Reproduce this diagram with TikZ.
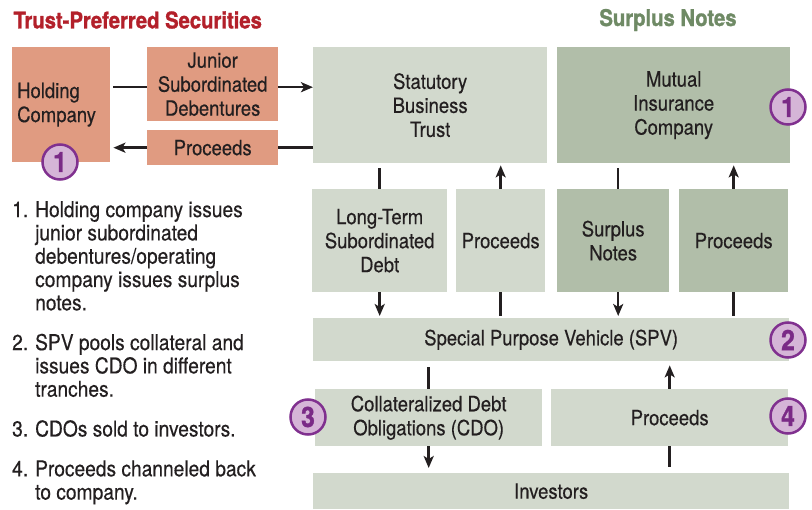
\documentclass[tikz,border=0pt]{standalone}
\usepackage{fontspec}
\setmainfont{TeX Gyre Heros}[FakeStretch=0.88,
  UprightFeatures={FakeBold=0.35},
  BoldFeatures={FakeBold=1.2}]
\usetikzlibrary{arrows.meta,calc}

\definecolor{salmon}{HTML}{E09B81}
\definecolor{paleG}{HTML}{D2D9CD}
\definecolor{sageG}{HTML}{B1BEA9}
\definecolor{titleRed}{HTML}{B3202A}
\definecolor{titleGreen}{HTML}{6F8A65}
\definecolor{ink}{HTML}{231F20}
\definecolor{badgeFill}{HTML}{D5B5D7}
\definecolor{badgeLine}{HTML}{80308F}
\definecolor{badgeText}{HTML}{7A2A86}

\begin{document}
\begin{tikzpicture}[x=1pt,y=-1pt,
  font=\fontsize{21}{24}\selectfont, text=ink,
  box/.style={fill=#1, inner sep=0pt, anchor=north west, align=center},
  flow/.style={draw=ink, line width=2.5pt},
  tip/.style={-{Stealth[length=12pt,width=10pt,inset=3pt]}},
  badge/.style={circle, fill=badgeFill, draw=badgeLine, line width=2.5pt,
    minimum size=35pt, inner sep=0pt, text=badgeText,
    font=\bfseries\fontsize{28}{28}\selectfont},
  heading/.style={font=\bfseries\fontsize{23}{23}\selectfont}]

\useasboundingbox (0,0) rectangle (812,510);
\fill[white] (0,0) rectangle (812,510);

% headings
\node[heading, text=titleRed, anchor=west] (tps) at (10,20) {Trust-Preferred Securities};
\node[heading, text=titleGreen] (sn) at (668,20) {Surplus Notes};

% trust-preferred side
\node[box=salmon, minimum width=98, minimum height=115, text width=88,
      inner xsep=5pt, align=left] (hold) at (12,47) {Holding\\Company};
\node[box=salmon, minimum width=131, minimum height=74] (jun) at (147,47)
  {Junior\\Subordinated\\Debentures};
\node[box=salmon, minimum width=131, minimum height=35] (proc1) at (147,130) {Proceeds};
\node[box=paleG, minimum width=234, minimum height=116] (trust) at (313,47)
  {Statutory\\Business\\Trust};

% surplus-notes side
\node[box=sageG, minimum width=233, minimum height=116] (mutual) at (557,47)
  {Mutual\\Insurance\\Company};

% middle row
\node[box=paleG, minimum width=135, minimum height=103] (lts) at (312,189)
  {Long-Term\\Subordinated\\Debt};
\node[box=paleG, minimum width=89, minimum height=103] (proc2) at (456,189) {Proceeds};
\node[box=sageG, minimum width=112, minimum height=103] (snotes) at (557,189)
  {Surplus\\Notes};
\node[box=sageG, minimum width=109, minimum height=103] (proc3) at (679,189) {Proceeds};

% pooling and sale
\node[box=paleG, minimum width=476, minimum height=43] (spv) at (313,318)
  {Special Purpose Vehicle (SPV)};
\node[box=paleG, minimum width=227, minimum height=57] (cdo) at (315,389)
  {Collateralized Debt\\Obligations (CDO)};
\node[box=paleG, minimum width=237, minimum height=57] (proc4) at (551,389) {Proceeds};
\node[box=paleG, minimum width=476, minimum height=36] (inv) at (313,473) {Investors};

% numbered notes
\node[anchor=north west, align=left, inner sep=0pt,
      font=\fontsize{21.8}{23.3}\selectfont] (notes) at (12,201)
{\makebox[23pt][l]{1.}Holding company issues\\
 \hspace*{23pt}junior subordinated\\
 \hspace*{23pt}debentures/operating\\
 \hspace*{23pt}company issues surplus\\
 \hspace*{23pt}notes.\\[16.5pt]
 \makebox[23pt][l]{2.}SPV pools collateral and\\
 \hspace*{23pt}issues CDO in different\\
 \hspace*{23pt}tranches.\\[16.5pt]
 \makebox[23pt][l]{3.}CDOs sold to investors.\\[16.5pt]
 \makebox[23pt][l]{4.}Proceeds channeled back\\
 \hspace*{23pt}to company.};

% horizontal flows
\draw[flow] ([xshift=3pt,yshift=-3pt]hold.east |- jun.west) -- ([yshift=-3pt]jun.west);
\draw[flow,tip] ([yshift=-3pt]jun.east) -- ([yshift=-3pt]jun.east -| trust.west);
\draw[flow] (proc1.east -| trust.west) -- (proc1.east);
\draw[flow,tip] (proc1.west) -- ([xshift=3pt]proc1.west -| hold.east);

% vertical flows, upper band
\draw[flow] ([yshift=-5pt]lts.north |- trust.south) -- (lts.north);
\draw[flow,tip] (lts.south) -- ([yshift=2pt]lts.south |- spv.north);
\draw[flow] ([yshift=2pt]proc2.south |- spv.north) -- (proc2.south);
\draw[flow,tip] (proc2.north) -- ([yshift=-2pt]proc2.north |- trust.south);
\draw[flow] ([xshift=5pt,yshift=-5pt]snotes.north |- mutual.south) -- ([xshift=5pt]snotes.north);
\draw[flow,tip] ([xshift=5pt]snotes.south) -- ([xshift=5pt,yshift=2pt]snotes.south |- spv.north);
\draw[flow] ([yshift=2pt]proc3.south |- spv.north) -- (proc3.south);
\draw[flow,tip] (proc3.north) -- ([yshift=-2pt]proc3.north |- mutual.south);

% vertical flows, lower band
\draw[flow] ([yshift=-6pt]cdo.north |- spv.south) -- (cdo.north);
\draw[flow,tip] (cdo.south) -- ([yshift=5pt]cdo.south |- inv.north);
\draw[flow] ([yshift=6pt]proc4.south |- inv.north) -- (proc4.south);
\draw[flow,tip] (proc4.north) -- ([yshift=-4pt]proc4.north |- spv.south);

% step badges
\node[badge] (b1a) at (60,162) {1};
\node[badge] (b1b) at (788,107) {1};
\node[badge] (b2) at (788,340) {2};
\node[badge] (b3) at (308,417) {3};
\node[badge] (b4) at (788,416) {4};
\end{tikzpicture}
\end{document}
